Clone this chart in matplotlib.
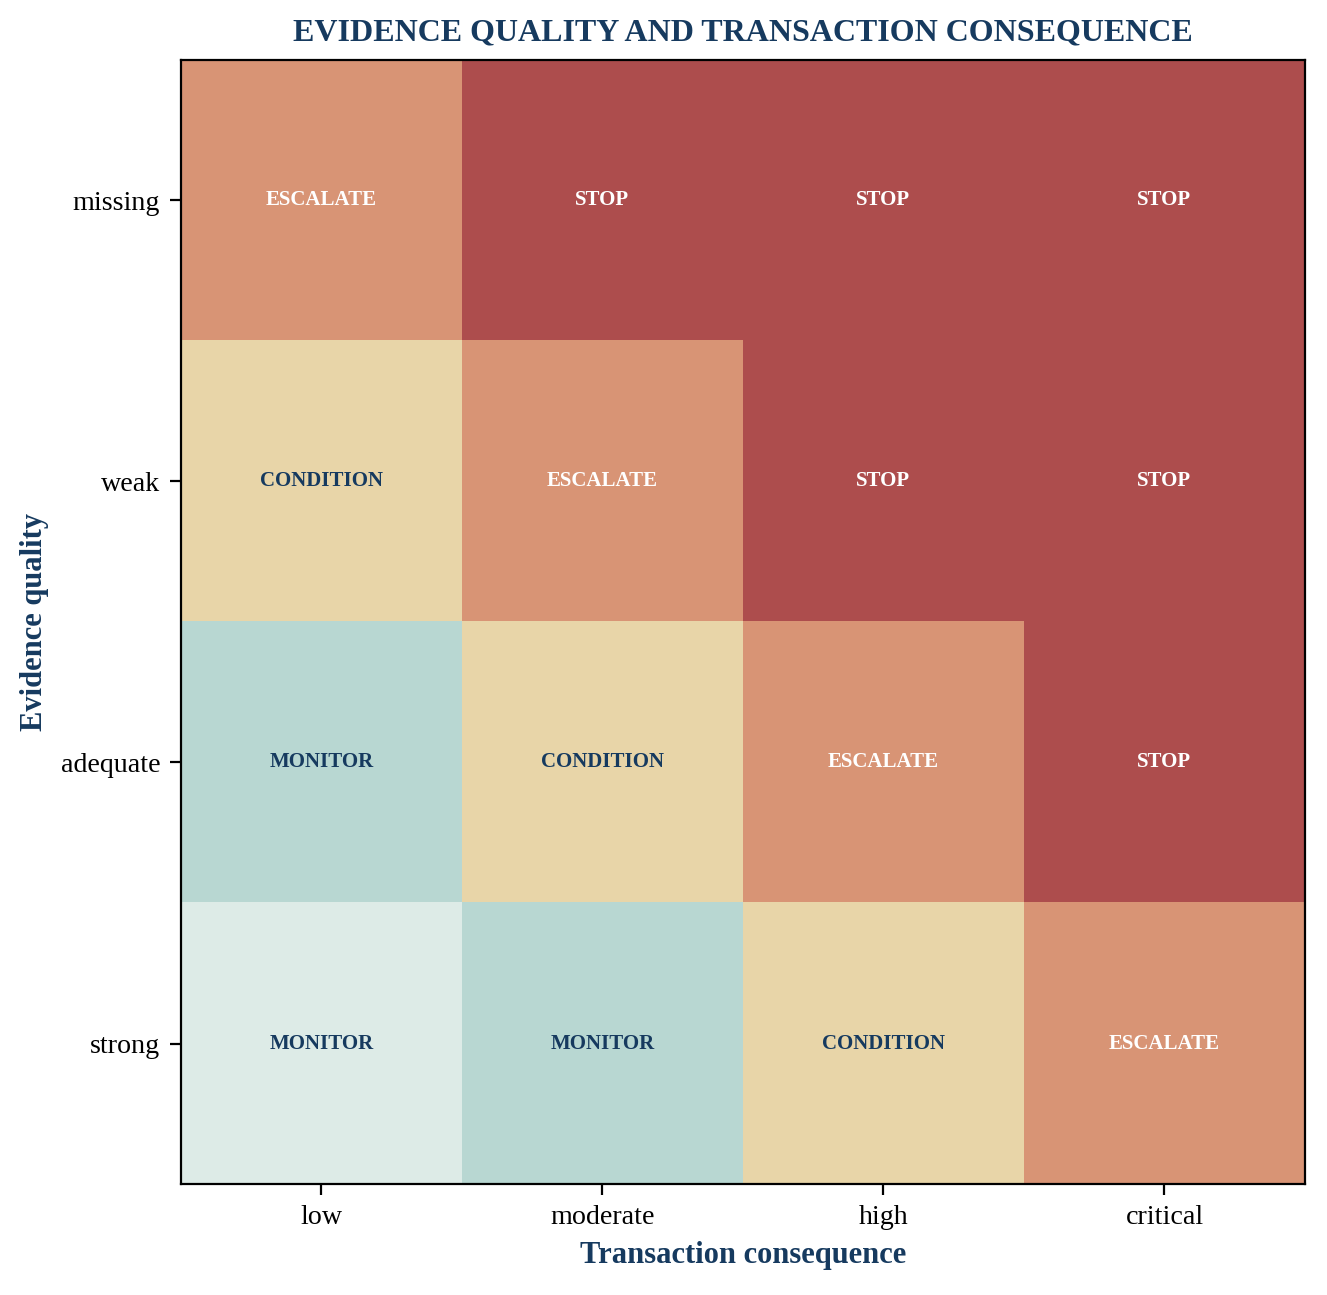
import matplotlib
matplotlib.use("Agg")
import matplotlib.pyplot as plt
from matplotlib.colors import ListedColormap, BoundaryNorm
import numpy as np

plt.rcParams['font.family'] = ['Liberation Serif', 'DejaVu Serif']

# datos
consecuencia = ['low', 'moderate', 'high', 'critical']
evidencia = ['missing', 'weak', 'adequate', 'strong']

# nivel de riesgo por celda (fila = evidencia, columna = consecuencia)
nivel = [
    [3, 4, 4, 4],
    [2, 3, 4, 4],
    [1, 2, 3, 4],
    [0, 1, 2, 3],
]
decision = [
    ['ESCALATE', 'STOP', 'STOP', 'STOP'],
    ['CONDITION', 'ESCALATE', 'STOP', 'STOP'],
    ['MONITOR', 'CONDITION', 'ESCALATE', 'STOP'],
    ['MONITOR', 'MONITOR', 'CONDITION', 'ESCALATE'],
]

colores = ['#ddebe7', '#b8d7d2', '#e8d5a8', '#d89475', '#ad4d4d']
navy = '#163a5f'

cmap = ListedColormap(colores)
norm = BoundaryNorm(np.arange(-0.5, 5.5, 1), cmap.N)

fig = plt.figure(figsize=(6.635, 6.475), dpi=200)
ax = fig.add_axes([0.1364, 0.0857, 0.847, 0.868])

ax.imshow(np.array(nivel), cmap=cmap, norm=norm, aspect='auto')

for i in range(len(evidencia)):
    for j in range(len(consecuencia)):
        color_txt = 'white' if nivel[i][j] >= 3 else navy
        ax.text(j, i, decision[i][j], ha='center', va='center',
                fontsize=7.5, fontweight='bold', color=color_txt)

ax.set_xticks(range(len(consecuencia)))
ax.set_xticklabels(consecuencia, fontsize=10.1)
ax.set_yticks(range(len(evidencia)))
ax.set_yticklabels(evidencia, fontsize=10.1)
ax.tick_params(length=4)

ax.set_xlabel('Transaction consequence', fontsize=11, fontweight='bold', color=navy)
ax.set_ylabel('Evidence quality', fontsize=11, fontweight='bold', color=navy)
ax.set_title('EVIDENCE QUALITY AND TRANSACTION CONSEQUENCE', fontsize=11.5,
             fontweight='bold', color=navy, pad=7)

fig.savefig('out.png', dpi=200)
